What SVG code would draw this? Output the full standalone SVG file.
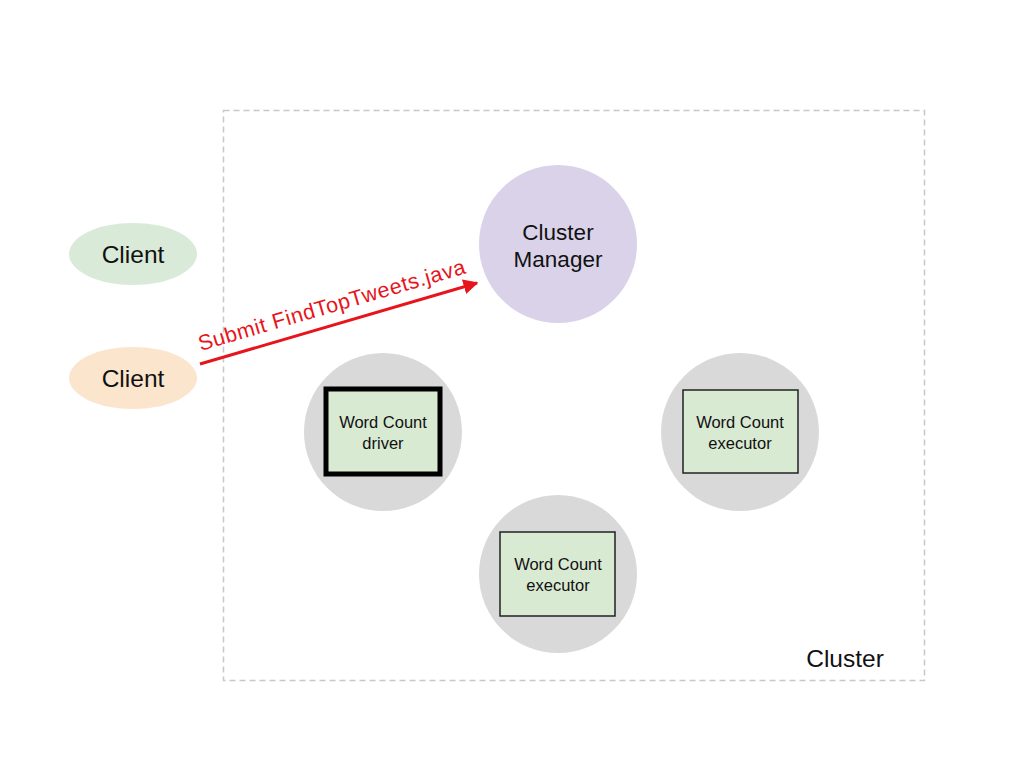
<svg xmlns="http://www.w3.org/2000/svg" width="1024" height="768" viewBox="0 0 1024 768">
<defs>
<style>
text{font-family:"Liberation Sans",Arial,sans-serif;fill:#111;text-anchor:middle}
.host{fill:#d9d9d9}
.proc{fill:#d9ead3;stroke:#222;stroke-width:1.5}
.t15{font-size:16.5px}
.t21{font-size:22.5px}
.t23{font-size:24.5px}
</style>
<marker id="ah" viewBox="0 0 10 10" refX="9" refY="5" markerWidth="5" markerHeight="5" orient="auto" markerUnits="strokeWidth"><path d="M0,0 L10,5 L0,10 z" fill="#e8141b"/></marker>
</defs>
<rect width="1024" height="768" fill="#fff"/>
<g id="cluster">
<rect x="223.5" y="110.5" width="701" height="570" fill="none" stroke="#c8c8c8" stroke-width="1.5" stroke-dasharray="6,4"/>
<text x="845" y="667" class="t23">Cluster</text>
</g>
<g id="client1">
<ellipse cx="133" cy="254" rx="64" ry="31" fill="#d5e8d4" opacity="0.9"/>
<text x="133" y="263" class="t23">Client</text>
</g>
<g id="client2">
<ellipse cx="133" cy="378" rx="64" ry="31" fill="#fce5cd"/>
<text x="133" y="387" class="t23">Client</text>
</g>
<g id="cluster-manager">
<circle cx="558" cy="244" r="79" fill="#d9d2e9"/>
<text x="558" y="240" class="t21">Cluster</text>
<text x="558" y="267" class="t21">Manager</text>
</g>
<g id="driver">
<circle cx="383" cy="432" r="79" class="host"/>
<rect x="326" y="389" width="114" height="85" fill="#d9ead3" stroke="#000" stroke-width="5"/>
<text x="383" y="428" class="t15">Word Count</text>
<text x="383" y="449" class="t15">driver</text>
</g>
<g id="executor1">
<circle cx="740" cy="432" r="79" class="host"/>
<rect x="683" y="390" width="115" height="83" class="proc"/>
<text x="740" y="428" class="t15">Word Count</text>
<text x="740" y="449" class="t15">executor</text>
</g>
<g id="executor2">
<circle cx="558" cy="574" r="79" class="host"/>
<rect x="500" y="532" width="115" height="84" class="proc"/>
<text x="558" y="570" class="t15">Word Count</text>
<text x="558" y="591" class="t15">executor</text>
</g>
<g id="connectors">
<line x1="200" y1="364" x2="477" y2="283" stroke="#e8141b" stroke-width="3" marker-end="url(#ah)"/>
<text x="334" y="312" transform="rotate(-16.3 334 312)" font-size="21.5" style="fill:#e8141b;letter-spacing:0.6px">Submit FindTopTweets.java</text>
</g>
</svg>
